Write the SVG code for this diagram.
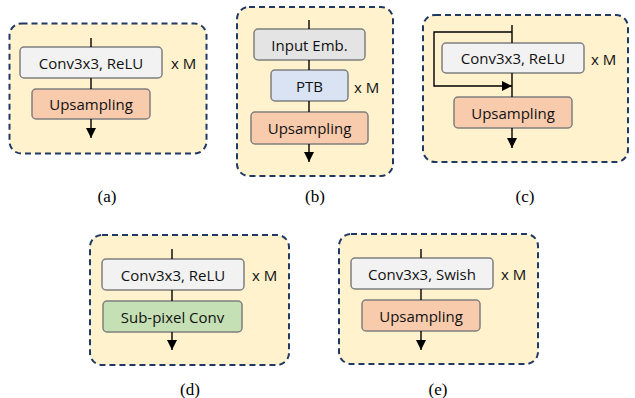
<svg xmlns="http://www.w3.org/2000/svg" width="635" height="398" viewBox="0 0 635 398">
<style>
.panel{fill:#fff2cc;stroke:#1f3864;stroke-width:2;stroke-dasharray:6,4}
.box{stroke:#7f7f7f;stroke-width:1.5}
.gray{fill:#f2f2f2}
.dgray{fill:#e4e4e4}
.up{fill:#f8cbad}
.ptb{fill:#dae3f3}
.sub{fill:#c5e0b4}
.t{font-family:"Open Sans","Liberation Sans",sans-serif;font-size:15px;fill:#111;text-anchor:middle;dominant-baseline:central}
.m{font-family:"Open Sans","Liberation Sans",sans-serif;font-size:15px;fill:#111;dominant-baseline:central}
.lab{font-family:"Liberation Serif",serif;font-size:17px;fill:#000;text-anchor:middle}
.ln{stroke:#000;stroke-width:1.4;fill:none}
.arr{stroke:#000;stroke-width:1.4;fill:none;marker-end:url(#ah)}
</style>
<defs>
<marker id="ah" markerUnits="userSpaceOnUse" markerWidth="10" markerHeight="10" refX="10" refY="5" orient="auto">
<path d="M0,0 L10,5 L0,10 z" fill="#000"/>
</marker>
</defs>

<g id="panel-a">
<rect class="panel" x="9.5" y="23.5" width="197" height="130" rx="12"/>
<rect class="box gray" x="20" y="47" width="142" height="31" rx="4"/>
<text class="t" x="91" y="63">Conv3x3, ReLU</text>
<rect class="box up" x="32" y="89" width="118" height="30" rx="4"/>
<text class="t" x="91" y="104">Upsampling</text>
<text class="m" x="171" y="63">x M</text>
<text class="lab" x="107" y="202">(a)</text>
</g>

<g id="panel-b">
<rect class="panel" x="237" y="7" width="156" height="169" rx="12"/>
<rect class="box dgray" x="254" y="29" width="111" height="31" rx="4"/>
<text class="t" x="309.5" y="45">Input Emb.</text>
<rect class="box ptb" x="271" y="70" width="77" height="31" rx="4"/>
<text class="t" x="309.5" y="86">PTB</text>
<rect class="box up" x="251" y="112" width="117" height="32" rx="4"/>
<text class="t" x="309.5" y="128">Upsampling</text>
<text class="m" x="354" y="87">x M</text>
<text class="lab" x="315" y="202">(b)</text>
</g>

<g id="panel-c">
<rect class="panel" x="423" y="15" width="205" height="147" rx="12"/>
<rect class="box gray" x="442" y="43" width="142" height="30" rx="4"/>
<text class="t" x="513" y="58">Conv3x3, ReLU</text>
<rect class="box up" x="454" y="97" width="118" height="31" rx="4"/>
<text class="t" x="513" y="112.5">Upsampling</text>
<text class="m" x="591" y="59">x M</text>
<text class="lab" x="525" y="202">(c)</text>
</g>

<g id="panel-d">
<rect class="panel" x="90" y="235" width="199" height="130" rx="12"/>
<rect class="box gray" x="102" y="259" width="142" height="31" rx="4"/>
<text class="t" x="173" y="275">Conv3x3, ReLU</text>
<rect class="box sub" x="103" y="301" width="139" height="31" rx="4"/>
<text class="t" x="172.5" y="317">Sub-pixel Conv</text>
<text class="m" x="252" y="275">x M</text>
<text class="lab" x="190" y="395">(d)</text>
</g>

<g id="panel-e">
<rect class="panel" x="339" y="234" width="199" height="130" rx="12"/>
<rect class="box gray" x="351" y="258" width="142" height="31" rx="4"/>
<text class="t" x="422" y="274">Conv3x3, Swish</text>
<rect class="box up" x="362" y="300" width="118" height="31" rx="4"/>
<text class="t" x="421" y="316">Upsampling</text>
<text class="m" x="501" y="274">x M</text>
<text class="lab" x="438" y="395">(e)</text>
</g>

<g id="connectors">
<line class="ln" x1="91" y1="38" x2="91" y2="47"/>
<line class="ln" x1="91" y1="78" x2="91" y2="89"/>
<line class="arr" x1="91" y1="119" x2="91" y2="138"/>

<line class="ln" x1="309" y1="20" x2="309" y2="29"/>
<line class="ln" x1="309" y1="60" x2="309" y2="70"/>
<line class="ln" x1="309" y1="101" x2="309" y2="112"/>
<line class="arr" x1="309" y1="144" x2="309" y2="162"/>

<line class="ln" x1="512" y1="25" x2="512" y2="43"/>
<line class="ln" x1="512" y1="73" x2="512" y2="97"/>
<path class="arr" d="M512,32 H434 V86 H512" stroke-width="1.6"/>
<line class="arr" x1="512" y1="128" x2="512" y2="148"/>

<line class="ln" x1="172" y1="249" x2="172" y2="259"/>
<line class="ln" x1="172" y1="290" x2="172" y2="301"/>
<line class="arr" x1="172" y1="332" x2="172" y2="350"/>

<line class="ln" x1="421" y1="249" x2="421" y2="258"/>
<line class="ln" x1="421" y1="289" x2="421" y2="300"/>
<line class="arr" x1="421" y1="331" x2="421" y2="350"/>
</g>
</svg>
